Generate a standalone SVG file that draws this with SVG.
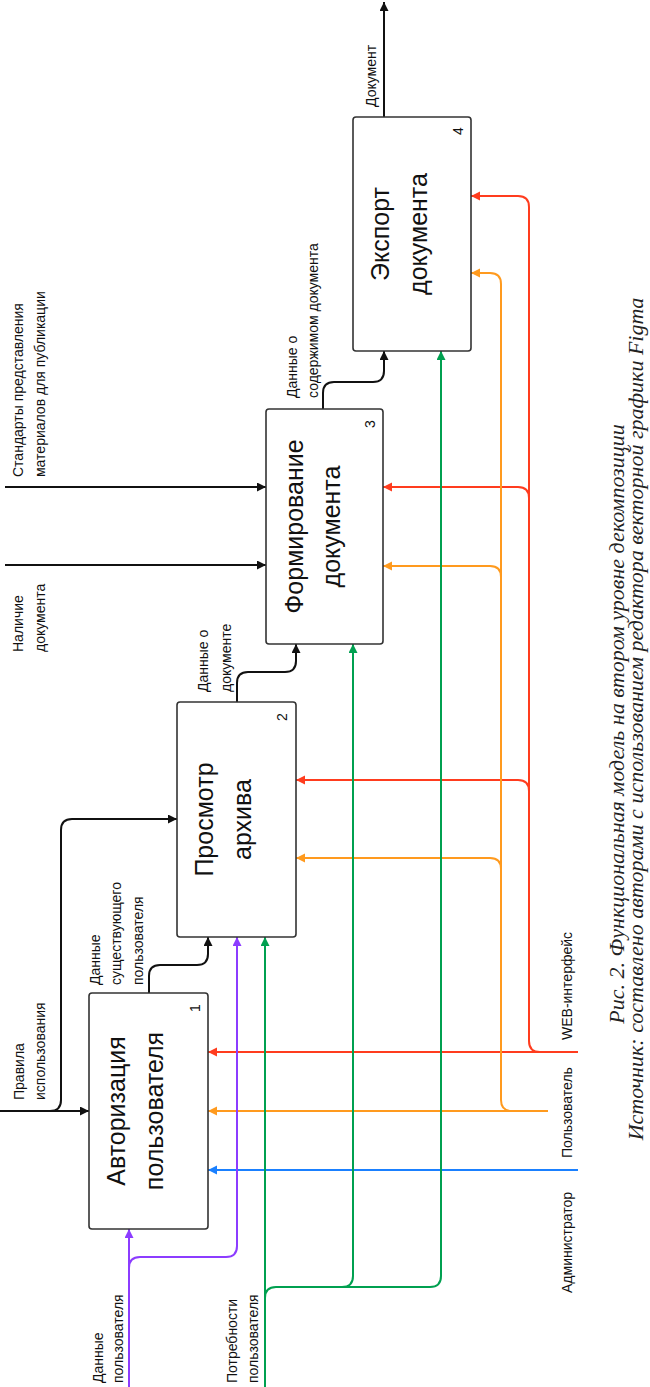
<svg xmlns="http://www.w3.org/2000/svg" width="650" height="1387" viewBox="0 0 650 1387">
<style>
.box{fill:#fff;stroke:#333;stroke-width:1.6}
.bt{font-family:"Liberation Sans",Arial,sans-serif;font-size:25px;fill:#111;text-anchor:middle}
.num{font-family:"Liberation Sans",Arial,sans-serif;font-size:14px;fill:#111;text-anchor:middle}
.lb{font-family:"Liberation Sans",Arial,sans-serif;font-size:14px;fill:#111}
.cap{font-family:"Liberation Serif","Times New Roman",serif;font-style:italic;font-size:22px;fill:#222;text-anchor:middle}
.c{fill:none;stroke-width:2}
.k{stroke:#111}.r{stroke:#ff3c1e}.o{stroke:#ff9a1e}.b{stroke:#1a80ff}.p{stroke:#8c3cff}.g{stroke:#00a050}
</style>
<defs>
<marker id="ak" markerUnits="userSpaceOnUse" markerWidth="10" markerHeight="10" refX="9" refY="4.5" orient="auto"><path d="M0,0 L9,4.5 L0,9 z" fill="#111"/></marker>
<marker id="ar" markerUnits="userSpaceOnUse" markerWidth="10" markerHeight="10" refX="9" refY="4.5" orient="auto"><path d="M0,0 L9,4.5 L0,9 z" fill="#ff3c1e"/></marker>
<marker id="ao" markerUnits="userSpaceOnUse" markerWidth="10" markerHeight="10" refX="9" refY="4.5" orient="auto"><path d="M0,0 L9,4.5 L0,9 z" fill="#ff9a1e"/></marker>
<marker id="ab" markerUnits="userSpaceOnUse" markerWidth="10" markerHeight="10" refX="9" refY="4.5" orient="auto"><path d="M0,0 L9,4.5 L0,9 z" fill="#1a80ff"/></marker>
<marker id="ap" markerUnits="userSpaceOnUse" markerWidth="10" markerHeight="10" refX="9" refY="4.5" orient="auto"><path d="M0,0 L9,4.5 L0,9 z" fill="#8c3cff"/></marker>
<marker id="ag" markerUnits="userSpaceOnUse" markerWidth="10" markerHeight="10" refX="9" refY="4.5" orient="auto"><path d="M0,0 L9,4.5 L0,9 z" fill="#00a050"/></marker>
</defs>
<rect width="650" height="1387" fill="#fff"/>

<g id="connectors">
<path class="c r" d="M578,1052 H208" marker-end="url(#ar)"/>
<path class="c r" d="M540,1052 Q529,1052 529,1041 V207 Q529,196 518,196 H471" marker-end="url(#ar)"/>
<path class="c r" d="M529,498 Q529,487 518,487 H383" marker-end="url(#ar)"/>
<path class="c r" d="M529,791 Q529,780 518,780 H296" marker-end="url(#ar)"/>
<path class="c o" d="M548,1111 H208" marker-end="url(#ao)"/>
<path class="c o" d="M512,1111 Q501,1111 501,1100 V284 Q501,273 490,273 H471" marker-end="url(#ao)"/>
<path class="c o" d="M501,577 Q501,566 490,566 H383" marker-end="url(#ao)"/>
<path class="c o" d="M501,869 Q501,858 490,858 H296" marker-end="url(#ao)"/>
<path class="c b" d="M578,1170 H208" marker-end="url(#ab)"/>
<path class="c p" d="M129,1387 V1229" marker-end="url(#ap)"/>
<path class="c p" d="M129,1268 Q129,1257 140,1257 H226 Q237,1257 237,1246 V937" marker-end="url(#ap)"/>
<path class="c g" d="M265,1387 V937" marker-end="url(#ag)"/>
<path class="c g" d="M265,1298 Q265,1287 276,1287 H430 Q441,1287 441,1276 V351" marker-end="url(#ag)"/>
<path class="c g" d="M342,1287 Q353,1287 353,1276 V644" marker-end="url(#ag)"/>
<path class="c k" d="M0,1111 H89" marker-end="url(#ak)"/>
<path class="c k" d="M50,1111 Q61,1111 61,1100 V830 Q61,819 72,819 H177" marker-end="url(#ak)"/>
<path class="c k" d="M149,993 V976 Q149,965 160,965 H197 Q208,965 208,954 V937" marker-end="url(#ak)"/>
<path class="c k" d="M237,702 V683 Q237,672 248,672 H285 Q296,672 296,661 V644" marker-end="url(#ak)"/>
<path class="c k" d="M5,565 H266" marker-end="url(#ak)"/>
<path class="c k" d="M5,487 H266" marker-end="url(#ak)"/>
<path class="c k" d="M323,409 V393 Q323,382 334,382 H373 Q384,382 384,371 V351" marker-end="url(#ak)"/>
<path class="c k" d="M384,117 V2" marker-end="url(#ak)"/>
</g>

<g id="node1">
<rect class="box" x="89" y="993" width="119" height="236" rx="3"/>
<text class="bt" transform="translate(89,1111) rotate(-90)"><tspan x="0" y="36">Авторизация</tspan><tspan x="0" y="74">пользователя</tspan></text>
<text class="num" transform="translate(200,1008) rotate(-90)">1</text>
</g>
<g id="node2">
<rect class="box" x="177" y="702" width="119" height="235" rx="3"/>
<text class="bt" transform="translate(177,819.5) rotate(-90)"><tspan x="0" y="36">Просмотр</tspan><tspan x="0" y="74">архива</tspan></text>
<text class="num" transform="translate(287,717) rotate(-90)">2</text>
</g>
<g id="node3">
<rect class="box" x="266" y="409" width="117" height="235" rx="3"/>
<text class="bt" transform="translate(266,526.5) rotate(-90)"><tspan x="0" y="37">Формирование</tspan><tspan x="0" y="74">документа</tspan></text>
<text class="num" transform="translate(375,424) rotate(-90)">3</text>
</g>
<g id="node4">
<rect class="box" x="353" y="117" width="118" height="234" rx="3"/>
<text class="bt" transform="translate(353,234) rotate(-90)"><tspan x="0" y="36">Экспорт</tspan><tspan x="0" y="74">документа</tspan></text>
<text class="num" transform="translate(463,131) rotate(-90)">4</text>
</g>

<g id="labels">
<text class="lb" transform="translate(24,1100) rotate(-90)"><tspan x="0" y="0">Правила</tspan><tspan x="0" y="21">использования</tspan></text>
<text class="lb" transform="translate(100,985) rotate(-90)"><tspan x="0" y="0">Данные</tspan><tspan x="0" y="21">существующего</tspan><tspan x="0" y="43">пользователя</tspan></text>
<text class="lb" transform="translate(208,692) rotate(-90)"><tspan x="0" y="0">Данные о</tspan><tspan x="0" y="23">документе</tspan></text>
<text class="lb" transform="translate(23,652) rotate(-90)"><tspan x="0" y="0">Наличие</tspan><tspan x="0" y="22">документа</tspan></text>
<text class="lb" transform="translate(23,477) rotate(-90)"><tspan x="0" y="0">Стандарты представления</tspan><tspan x="0" y="22">материалов для публикации</tspan></text>
<text class="lb" transform="translate(297,398) rotate(-90)"><tspan x="0" y="0">Данные о</tspan><tspan x="0" y="21">содержимом документа</tspan></text>
<text class="lb" transform="translate(376,107) rotate(-90)">Документ</text>
<text class="lb" transform="translate(103,1383) rotate(-90)"><tspan x="0" y="0">Данные</tspan><tspan x="0" y="20">пользователя</tspan></text>
<text class="lb" transform="translate(237,1383) rotate(-90)"><tspan x="0" y="0">Потребности</tspan><tspan x="0" y="21">пользователя</tspan></text>
<text class="lb" transform="translate(572,1040) rotate(-90)">WEB-интерфейс</text>
<text class="lb" transform="translate(572,1158) rotate(-90)">Пользователь</text>
<text class="lb" transform="translate(572,1293) rotate(-90)">Администратор</text>
</g>

<g id="caption">
<text class="cap" transform="translate(624,724) rotate(-90)">Рис. 2. Функциональная модель на втором уровне декомпозиции</text>
<text class="cap" transform="translate(643,719) rotate(-90)">Источник: составлено авторами с использованием редактора векторной графики Figma</text>
</g>
</svg>
